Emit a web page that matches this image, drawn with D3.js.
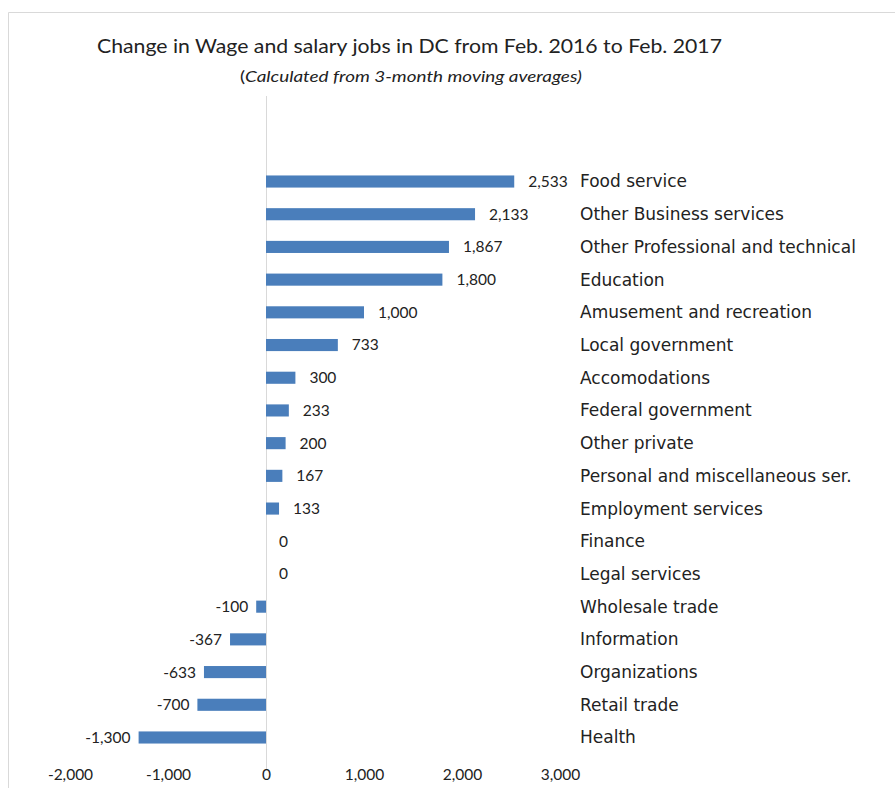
<!DOCTYPE html>
<html><head><meta charset="utf-8">
<script src="https://cdn.jsdelivr.net/npm/d3@7"></script>
<style>body{margin:0;background:#fff}svg{display:block}</style>
</head><body>
<script>
const categories = ["Food service","Other Business services","Other Professional and technical","Education","Amusement and recreation","Local government","Accomodations","Federal government","Other private","Personal and miscellaneous ser.","Employment services","Finance","Legal services","Wholesale trade","Information","Organizations","Retail trade","Health"];
const values = [2533,2133,1867,1800,1000,733,300,233,200,167,133,0,0,-100,-367,-633,-700,-1300];
const tickValues = [-2000,-1000,0,1000,2000,3000];
const title = "Change in Wage and salary jobs in DC from Feb. 2016 to Feb. 2017";
const subtitle = "Calculated from 3-month moving averages";

const W = 895, H = 788;
const svg = d3.select("body").append("svg").attr("width", W).attr("height", H);
const f0 = d3.format(",");
const fmt = v => f0(v).replace("\u2212", "-");

// frame
svg.append("path").attr("d", `M8.5,${H} V12.5 H${W}`).attr("fill","none").attr("stroke","#d9d9d9").attr("stroke-width",1);

const x = d3.scaleLinear().domain([-2000,3000]).range([70,560]);
const y = d3.scaleBand().domain(categories).range([165, 754]).paddingInner(0.63).paddingOuter(0.32);

// title
svg.append("text").attr("x", 97).attr("y", 53).attr("font-family", "Lato, sans-serif").attr("font-size", 19)
  .attr("fill","#222").attr("textLength", 625).attr("lengthAdjust","spacingAndGlyphs").text(title);
const st = svg.append("text").attr("x", 240).attr("y", 82).attr("font-family","Lato, sans-serif").attr("font-size",15)
  .attr("fill","#222").attr("textLength", 342).attr("lengthAdjust","spacingAndGlyphs");
st.append("tspan").text("(");
st.append("tspan").attr("font-style","italic").text(subtitle + ")");

// zero line
svg.append("line").attr("x1", x(0)+0.5).attr("x2", x(0)+0.5).attr("y1", 96).attr("y2", 770)
  .attr("stroke","#d9d9d9").attr("stroke-width",1);

// bars
const rows = categories.map((c,i)=>({c, v: values[i]}));
svg.append("g").selectAll("rect").data(rows).join("rect")
  .attr("x", d => x(Math.min(0,d.v)))
  .attr("width", d => Math.abs(x(d.v)-x(0)))
  .attr("y", d => y(d.c))
  .attr("height", y.bandwidth())
  .attr("fill", "#4a7ebb");

// value labels
svg.append("g").selectAll("text").data(rows).join("text")
  .attr("x", d => d.v > 0 ? x(d.v) + 14 : (d.v === 0 ? x(0) + 13 : x(d.v) - 8))
  .attr("y", d => y(d.c) + y.bandwidth()/2)
  .attr("dy", "0.35em")
  .attr("text-anchor", d => d.v < 0 ? "end" : "start")
  .attr("font-family", "Lato, sans-serif").attr("font-size", 15.5).attr("fill", "#222")
  .text(d => fmt(d.v));

// category labels
svg.append("g").selectAll("text").data(rows).join("text")
  .attr("x", 580)
  .attr("y", d => y(d.c) + y.bandwidth()/2)
  .attr("dy", "0.35em")
  .attr("font-family", "'DejaVu Sans', sans-serif").attr("font-size", 17).attr("fill", "#222")
  .text(d => d.c);

// x axis (labels only)
const ax = svg.append("g").attr("transform", "translate(0,769)")
  .call(d3.axisBottom(x).tickValues(tickValues).tickFormat(fmt).tickSize(0).tickPadding(0));
ax.select(".domain").remove();
ax.selectAll("text").attr("font-family", "Lato, sans-serif").attr("font-size", 15.5).attr("fill", "#222");
</script>
</body></html>
